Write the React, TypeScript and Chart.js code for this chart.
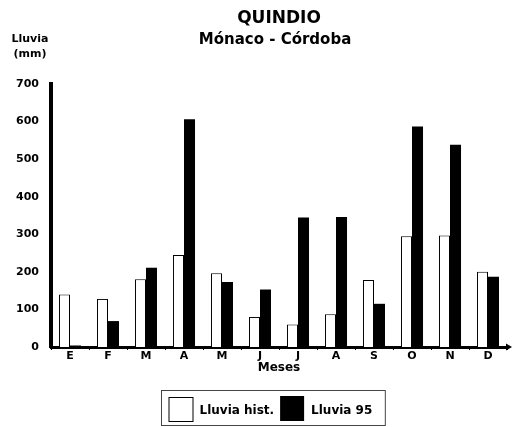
import React, { useEffect, useRef } from 'react';
import { Chart, registerables } from 'chart.js';

Chart.register(...registerables);

const months = ['E', 'F', 'M', 'A', 'M', 'J', 'J', 'A', 'S', 'O', 'N', 'D'];
const lluviaHist = [140, 128, 180, 245, 196, 80, 60, 87, 178, 295, 297, 200];
const lluvia95 = [4, 69, 211, 606, 173, 153, 345, 346, 115, 587, 538, 187];
const seriesNames = ['Lluvia hist.', 'Lluvia 95'];
const titleLines = ['QUINDIO', 'Mónaco - Córdoba'];
const yLabelLines = ['Lluvia', '(mm)'];
const xTitle = 'Meses';
const yMax = 700;
const yStep = 100;

const FONT = '"DejaVu Sans", "Liberation Sans", sans-serif';

const overlay = {
  id: 'overlay',
  afterDraw(chart: any) {
    const ctx = chart.ctx as CanvasRenderingContext2D;
    const a = chart.chartArea;
    ctx.save();
    ctx.fillStyle = '#000';
    ctx.textBaseline = 'alphabetic';
    ctx.textAlign = 'center';
    const cx = (a.left + a.right) / 2;
    ctx.font = `bold 17px ${FONT}`;
    ctx.fillText(titleLines[0], cx, 23);
    ctx.font = `bold 15px ${FONT}`;
    ctx.fillText(titleLines[1], cx - 4, 44);

    ctx.font = `bold 11px ${FONT}`;
    ctx.fillText(yLabelLines[0], 30, 42);
    ctx.fillText(yLabelLines[1], 30, 57);

    // arrow at end of x axis
    ctx.beginPath();
    ctx.moveTo(a.right - 1, a.bottom - 3.5);
    ctx.lineTo(a.right + 5, a.bottom);
    ctx.lineTo(a.right - 1, a.bottom + 3.5);
    ctx.closePath();
    ctx.fill();

    // legend
    ctx.font = `bold 12px ${FONT}`;
    ctx.textAlign = 'left';
    const boxW = 25;
    const boxH = 25;
    const gapText = 6;
    const gapItem = 6;
    const padL = 7;
    const padR = 13;
    const w0 = ctx.measureText(seriesNames[0]).width;
    const w1 = ctx.measureText(seriesNames[1]).width;
    const inner = boxW + gapText + w0 + gapItem + boxW + gapText + w1;
    const total = padL + inner + padR;
    const lx = Math.round(cx - 6 - total / 2) + 0.5;
    const ly = 390.5;
    const lh = 35;
    ctx.strokeStyle = '#444';
    ctx.lineWidth = 1;
    ctx.strokeRect(lx, ly, total, lh);
    let x = lx + padL;
    const by = ly + 6.5;
    ctx.fillStyle = '#fff';
    ctx.fillRect(x, by, boxW, boxH);
    ctx.strokeStyle = '#000';
    ctx.strokeRect(x + 0.5, by + 0.5, boxW - 1, boxH - 1);
    x += boxW + gapText;
    ctx.fillStyle = '#000';
    ctx.fillText(seriesNames[0], x, by + 17);
    x += w0 + gapItem;
    ctx.fillRect(x, by - 1, boxW - 1, boxH);
    x += boxW + gapText;
    ctx.fillText(seriesNames[1], x, by + 17);
    ctx.restore();
  },
};

export default function App() {
  const ref = useRef<HTMLCanvasElement | null>(null);
  useEffect(() => {
    if (!ref.current) return;
    const chart = new Chart(ref.current, {
      type: 'bar',
      data: {
        labels: months,
        datasets: [
          {
            label: seriesNames[0],
            data: lluviaHist,
            backgroundColor: '#ffffff',
            borderColor: '#000000',
            borderWidth: 1,
            barPercentage: 1,
            categoryPercentage: 0.58,
          },
          {
            label: seriesNames[1],
            data: lluvia95,
            backgroundColor: '#000000',
            borderColor: '#000000',
            borderWidth: 0,
            barPercentage: 1,
            categoryPercentage: 0.58,
          },
        ],
      },
      options: {
        responsive: false,
        animation: false,
        layout: { padding: { top: 84, left: 0, right: 11, bottom: 52 } },
        plugins: {
          legend: { display: false },
          title: { display: false },
          tooltip: { enabled: false },
        },
        scales: {
          x: {
            grid: {
              display: true,
              drawOnChartArea: false,
              drawTicks: true,
              tickLength: 3,
              color: '#000',
              lineWidth: 1,
            },
            border: { display: true, color: '#000', width: 3 },
            ticks: {
              color: '#000',
              font: { family: FONT, weight: 'bold', size: 11 },
              padding: 0,
              maxRotation: 0,
              autoSkip: false,
            },
            title: {
              display: true,
              text: xTitle,
              color: '#000',
              font: { family: FONT, weight: 'bold', size: 12 },
              padding: 0,
            },
            afterFit(scale: any) {
              scale.height = 28;
            },
          },
          y: {
            min: 0,
            max: yMax,
            grid: { display: false, drawTicks: false },
            border: { display: true, color: '#000', width: 4 },
            ticks: {
              stepSize: yStep,
              color: '#000',
              font: { family: FONT, weight: 'bold', size: 11 },
              padding: 12,
            },
            afterFit(scale: any) {
              scale.width = 51;
            },
          },
        },
      },
      plugins: [overlay],
    } as any);
    return () => chart.destroy();
  }, []);
  return (
    <div style={{ position: 'fixed', left: 0, top: 0, width: 518, height: 427, background: '#fff' }}>
      <canvas ref={ref} width={518} height={427} />
    </div>
  );
}
